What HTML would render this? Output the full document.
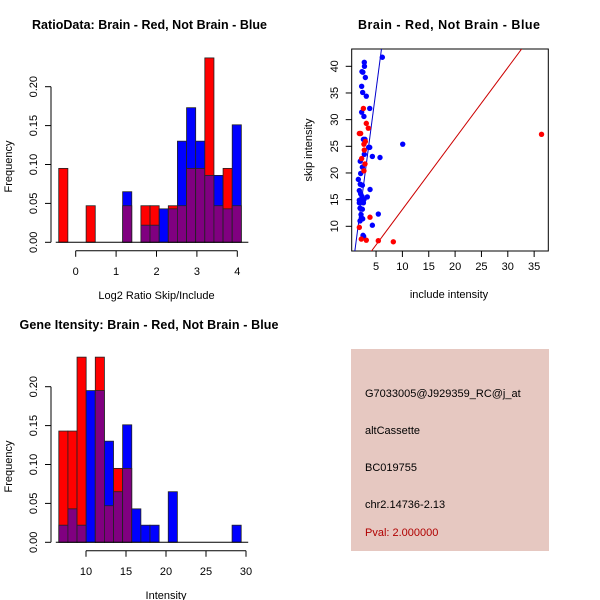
<!DOCTYPE html>
<html><head><meta charset="utf-8"><style>
html,body{margin:0;padding:0;background:#fff;}
svg{display:block;font-family:"Liberation Sans",sans-serif;}
</style></head><body>
<svg id="c" width="600" height="600" viewBox="0 0 600 600" xmlns="http://www.w3.org/2000/svg">
<rect width="600" height="600" fill="#fff"/>
<text x="149.5" y="29" text-anchor="middle" font-weight="bold" font-size="12.5" textLength="235">RatioData: Brain - Red, Not Brain - Blue</text>
<text x="449" y="29" text-anchor="middle" font-weight="bold" font-size="12.5" textLength="182">Brain - Red, Not Brain - Blue</text>
<text x="149" y="329" text-anchor="middle" font-weight="bold" font-size="12.5" textLength="259">Gene Itensity: Brain - Red, Not Brain - Blue</text>
<g id="h1"></g>
<g id="h2"></g>
<g id="sc"></g>
<g>
<rect x="351" y="349" width="198" height="202" fill="#e6c8c1"/>
<text x="365" y="397" font-size="11">G7033005@J929359_RC@j_at</text>
<text x="365" y="434" font-size="11">altCassette</text>
<text x="365" y="471" font-size="11">BC019755</text>
<text x="365" y="508" font-size="11">chr2.14736-2.13</text>
<text x="365" y="536" font-size="11" fill="#b00000">Pval: 2.000000</text>
</g>
</svg>
<script>
const NS="http://www.w3.org/2000/svg";
// Ratio histogram data
const ratioBreakStart=-0.42, ratioBinWidth=0.226;
const ratioRed=[0.095,0,0,0.047,0,0,0,0.047,0,0.047,0.047,0,0.047,0.047,0.095,0.095,0.237,0.047,0.095,0.047];
const ratioBlue=[0,0,0,0,0,0,0,0.065,0,0.022,0.022,0.043,0.043,0.13,0.173,0.13,0.086,0.086,0.043,0.151];
const ratioXTicks=[0,1,2,3,4];
const freqTicks=["0.00","0.05","0.10","0.15","0.20"];
// Intensity histogram data
const intBreakStart=6.6, intBinWidth=1.14;
const intRed=[0.143,0.143,0.238,0,0.238,0.047,0.095,0.095,0,0,0,0,0,0,0,0,0,0,0,0];
const intBlue=[0.022,0.043,0.022,0.195,0.195,0.13,0.065,0.151,0.043,0.022,0.022,0,0.065,0,0,0,0,0,0,0.022];
const intXTicks=[10,15,20,25,30];
// Scatter data
const blueX=[6.19,2.77,2.8,2.33,2.5,2.97,2.27,2.46,3.15,3.8,2.27,2.7,2.6,2.9,3.6,3.8,10.06,4.3,5.75,2.77,2.0,2.4,2.08,1.64,2.0,2.4,3.86,1.83,2.08,1.83,2.33,3.34,2.7,2.6,1.83,1.96,2.4,2.15,5.43,2.33,2.46,1.96,4.3,2.53,2.65];
const blueY=[41.7,40.75,40.0,39.0,38.9,37.9,36.25,35.1,34.4,32.1,31.4,30.6,26.3,26.3,24.8,24.8,25.4,23.1,22.9,23.5,22.2,21.1,19.9,18.8,17.9,17.7,16.9,16.7,16.1,14.9,15.6,15.5,15.0,14.4,14.4,13.4,13.2,12.2,12.3,11.5,11.4,11.0,10.2,8.3,8.1];
const redX=[2.6,3.15,3.53,1.83,2.08,36.4,2.97,2.7,2.77,2.27,2.9,2.7,3.85,1.83,2.2,3.15,5.43,8.28];
const redY=[32.1,29.3,28.4,27.4,27.4,27.25,25.9,25.4,24.3,22.7,21.7,20.4,11.7,9.8,7.6,7.4,7.3,7.1];
const blueFit=[-1.96,7.5];
const redFit=[-0.14,1.33];
const scXTicks=[5,10,15,20,25,30,35];
const scYTicks=[10,15,20,25,30,35,40];

function el(p,tag,a,txt){const e=document.createElementNS(NS,tag);for(const k in a)e.setAttribute(k,a[k]);if(txt!==undefined)e.textContent=txt;p.appendChild(e);return e;}

function hist(gid,x0,x1,y0,y1,dom,start,bw,red,blue,xt,xlab){
  const g=document.getElementById(gid);
  const sx=v=>x0+(v-dom[0])/(dom[1]-dom[0])*(x1-x0);
  const sy=v=>y0-v/0.20*(y0-y1);
  for(let i=0;i<red.length;i++){
    const a=sx(start+i*bw), b=sx(start+(i+1)*bw);
    const r=red[i], bl=blue[i], mn=Math.min(r,bl), mx=Math.max(r,bl);
    if(mx>0){
      const t=el(g,'rect',{x:a,y:sy(mx),width:b-a,height:sy(0)-sy(mx),fill:r>bl?'#ff0000':'#0000ff',stroke:'#222','stroke-width':0.8});
      
      
    }
    if(mn>0){
      const t=el(g,'rect',{x:a,y:sy(mn),width:b-a,height:sy(0)-sy(mn),fill:'#800080',stroke:'#222','stroke-width':0.8});
      
      
    }
  }
  // y axis
  const ya=el(g,'line',{x1:51,x2:51,y1:sy(0),y2:sy(0.2),stroke:'#000'});
  
  
  freqTicks.forEach((t,i)=>{const y=sy(i*0.05);
    el(g,'line',{x1:45,x2:51,y1:y,y2:y,stroke:'#000'});
    const tx=el(g,'text',{x:0,y:0,transform:`translate(37,${y}) rotate(-90)`,'text-anchor':'middle','font-size':11},t);
    
    
  });
  const yl=el(g,'text',{transform:`translate(12,${(sy(0)+sy(0.2))/2+2}) rotate(-90)`,'text-anchor':'middle','font-size':11},'Frequency');
  
  
  // baseline
  el(g,'line',{x1:sx(start)-3,x2:sx(start+red.length*bw)+7,y1:sy(0),y2:sy(0),stroke:'#000'});
  const ay=sy(0)+8.5;
  const xa=el(g,'line',{x1:sx(xt[0]),x2:sx(xt[xt.length-1]),y1:ay,y2:ay,stroke:'#000'});
  
  
  xt.forEach(v=>{const x=sx(v);
    el(g,'line',{x1:x,x2:x,y1:ay,y2:ay+6,stroke:'#000'});
    const tx=el(g,'text',{x:x,y:ay+24,'text-anchor':'middle','font-size':11},String(v));
    
    
  });
  const xl=el(g,'text',{x:(sx(xt[0])+sx(xt[xt.length-1]))/2,y:ay+48,'text-anchor':'middle','font-size':11},xlab);
  
  
}
// ratio: 0 ->75.7, 4 ->237.3
hist('h1',75.7,237.3,242.3,86.7,[0,4],ratioBreakStart,ratioBinWidth,ratioRed,ratioBlue,ratioXTicks,'Log2 Ratio Skip/Include');
// intensity: 10 -> 86, 30 -> 246
hist('h2',86,246,542.3,386.7,[10,30],intBreakStart,intBinWidth,intRed,intBlue,intXTicks,'Intensity');

(function(){
  const g=document.getElementById('sc');
  const L=351.7,R=548.3,T=49,B=251;
  const sx=v=>349.7+v*5.27, sy=v=>226.3-(v-10)*5.333;
  const x2v=p=>(p-349.7)/5.27, y2v=p=>10+(226.3-p)/5.333;
  const cp=el(g,'clipPath',{id:'scclip'});el(cp,'rect',{x:L,y:T,width:R-L,height:B-T});
  const box=el(g,'rect',{x:L,y:T,width:R-L,height:B-T,fill:'none',stroke:'#000'});
  
  
  function fit(f,col,name){
    const xa=x2v(L),xb=x2v(R);
    const l=el(g,'line',{x1:sx(xa),y1:sy(f[0]+f[1]*xa),x2:sx(xb),y2:sy(f[0]+f[1]*xb),stroke:col,'stroke-width':1,'clip-path':'url(#scclip)'});
    
    
  }
  fit(blueFit,'#0000cc','blue-fit-line');
  fit(redFit,'#cc0000','red-fit-line');
  blueX.forEach((x,i)=>{const c=el(g,'circle',{cx:sx(x),cy:sy(blueY[i]),r:2.7,fill:'#0000ff'});
    
    });
  redX.forEach((x,i)=>{const c=el(g,'circle',{cx:sx(x),cy:sy(redY[i]),r:2.7,fill:'#ff0000'});
    
    });
  scXTicks.forEach(v=>{const x=sx(v);
    el(g,'line',{x1:x,x2:x,y1:B,y2:B+6,stroke:'#000'});
    const t=el(g,'text',{x:x,y:B+19,'text-anchor':'middle','font-size':11},String(v));
    
    });
  scYTicks.forEach(v=>{const y=sy(v);
    el(g,'line',{x1:L-6,x2:L,y1:y,y2:y,stroke:'#000'});
    const t=el(g,'text',{transform:`translate(338,${y}) rotate(-90)`,'text-anchor':'middle','font-size':11},String(v));
    
    });
  const xl=el(g,'text',{x:449,y:298,'text-anchor':'middle','font-size':11},'include intensity');
  
  
  const yl=el(g,'text',{transform:'translate(312,150) rotate(-90)','text-anchor':'middle','font-size':11},'skip intensity');
  
  
})();
</script>
</body></html>
